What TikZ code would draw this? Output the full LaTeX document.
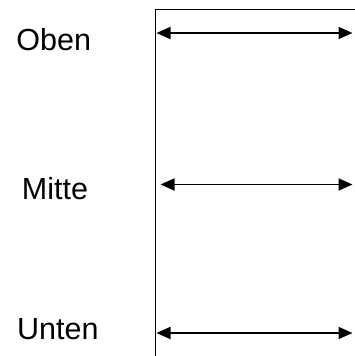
\documentclass[tikz,border=0pt]{standalone}
\usepackage{fontspec}
\setmainfont{Liberation Sans}
\usetikzlibrary{arrows.meta}
\begin{document}
\begin{tikzpicture}[x=1pt,y=-1pt,
  label/.style={anchor=base,inner sep=0pt,font=\fontsize{30.5}{36}\selectfont},
  frame/.style={line width=1.8pt},
  span/.style={line width=1.8pt,{Triangle[length=14pt,width=12pt]}-{Triangle[length=14pt,width=12pt]}}]
  \useasboundingbox (0,0) rectangle (355,356);
  % level labels
  \node[label] (oben)  at (53.7,50)   {Oben};
  \node[label] (mitte) at (55,199.3)  {Mitte};
  \node[label] (unten) at (57.8,339.3) {Unten};
  % frame: top edge and left wall
  \coordinate (tr) at (356,9.5);
  \coordinate (tl) at (155.5,9.5);
  \coordinate (bl) at (155.5,357);
  \draw[frame] (tr) -- (tl) -- (bl);
  % arrow ends
  \coordinate (a1) at (156.5,33);  \coordinate (b1) at (352.5,33);
  \coordinate (a2) at (160.5,184.5); \coordinate (b2) at (352.5,184.5);
  \coordinate (a3) at (156.5,333); \coordinate (b3) at (352.5,333);
  \draw[span] (a1) -- (b1);
  \draw[span] (a2) -- (b2);
  \draw[span] (a3) -- (b3);
\end{tikzpicture}
\end{document}
